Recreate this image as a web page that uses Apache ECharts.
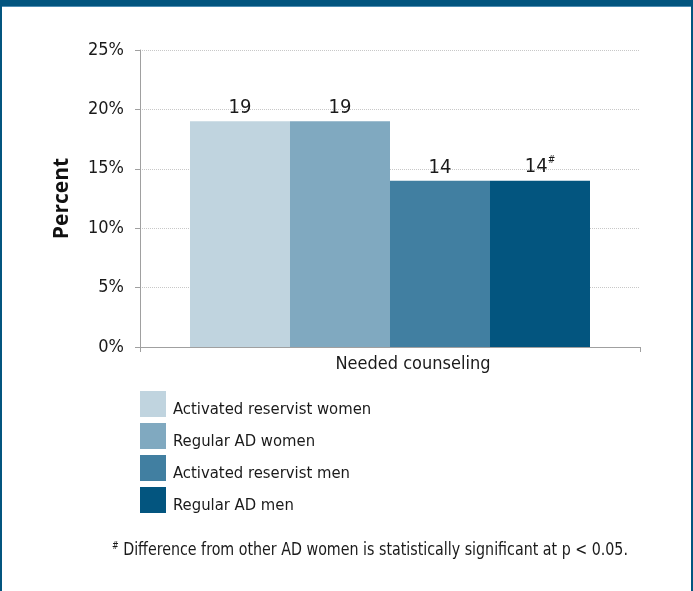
<!DOCTYPE html>
<html>
<head>
<meta charset="utf-8">
<script src="https://cdn.jsdelivr.net/npm/echarts@6/dist/echarts.min.js"></script>
<style>
  html, body { margin: 0; padding: 0; background: #ffffff; }
  #chart { width: 693px; height: 591px; }
</style>
</head>
<body>
<div id="chart"></div>
<script>
// Share of respondents who needed counseling, by group
const categories = ['Needed counseling'];
const seriesNames = [
  'Activated reservist women',
  'Regular AD women',
  'Activated reservist men',
  'Regular AD men'
];
const seriesValues = [[19], [19], [14], [14]];
const significant = [false, false, false, true];
const yTicks = [0, 5, 10, 15, 20, 25];
const colors = ['#c0d4df', '#80a9c0', '#417fa1', '#03557f'];

const FONT = '"DejaVu Sans Condensed", "Liberation Sans Narrow", "Open Sans", sans-serif';
const INK = '#1a1a1a';
const chart = echarts.init(document.getElementById('chart'), null, { renderer: 'canvas' });

const series = seriesNames.map((name, i) => ({
  name,
  type: 'bar',
  data: seriesValues[i],
  barGap: '0%',
  barCategoryGap: '20%',
  itemStyle: { color: colors[i] },
  label: {
    show: true,
    position: 'top',
    distance: 3,
    fontFamily: FONT,
    fontSize: 20,
    color: INK,
    formatter: p => significant[i] ? p.value + '{sup|#}' : String(p.value),
    rich: { sup: { fontSize: 10, verticalAlign: 'top', padding: [0, 0, 12, 0], fontFamily: FONT, color: INK } }
  }
}));

chart.setOption({
  animation: false,
  backgroundColor: '#ffffff',
  textStyle: { fontFamily: FONT },
  grid: { left: 140, right: 53, top: 50, bottom: 244, containLabel: false },
  xAxis: {
    type: 'category',
    data: categories,
    axisLine: { lineStyle: { color: '#a0a0a0', width: 1 } },
    axisTick: { show: true, length: 5, lineStyle: { color: '#a0a0a0' } },
    axisLabel: { fontFamily: FONT, fontSize: 18, color: INK, margin: 8, padding: [0, 0, 0, 46] }
  },
  yAxis: {
    type: 'value',
    min: yTicks[0],
    max: yTicks[yTicks.length - 1],
    interval: 5,
    name: 'Percent',
    nameLocation: 'middle',
    nameGap: 67,
    nameTextStyle: { fontFamily: '"Open Sans", sans-serif', fontWeight: 'bold', fontSize: 21, color: '#111111' },
    axisLine: { show: true, lineStyle: { color: '#a0a0a0', width: 1 } },
    axisTick: { show: true, length: 5, lineStyle: { color: '#a0a0a0' } },
    axisLabel: { fontFamily: FONT, fontSize: 18, color: INK, margin: 16, formatter: v => v + '%' },
    splitLine: { show: true, lineStyle: { color: '#c8c8c8', type: [1, 1], width: 1 } }
  },
  legend: {
    orient: 'vertical',
    left: 140,
    top: 391,
    padding: 0,
    itemWidth: 26,
    itemHeight: 26,
    itemGap: 4.5,
    icon: 'rect',
    data: seriesNames,
    formatter: '{t|{name}}',
    textStyle: {
      fontFamily: FONT, fontSize: 16.5, color: INK,
      rich: { t: { fontFamily: FONT, fontSize: 16.5, color: INK, padding: [12, 0, 0, 2] } }
    }
  },
  graphic: [
    { type: 'rect', shape: { x: 0, y: 0, width: 693, height: 6 }, style: { fill: '#03557f' }, silent: true },
    { type: 'rect', shape: { x: 0, y: 6, width: 693, height: 1 }, style: { fill: '#4f8db3' }, silent: true },
    { type: 'rect', shape: { x: 0, y: 0, width: 2, height: 591 }, style: { fill: '#03557f' }, silent: true },
    { type: 'rect', shape: { x: 691, y: 0, width: 2, height: 591 }, style: { fill: '#03557f' }, silent: true },
    {
      type: 'text', x: 112, y: 541, scaleX: 0.88,
      style: {
        text: '{sup|#} Difference from other AD women is statistically significant at p < 0.05.',
        fontFamily: FONT, fontSize: 18, fill: INK,
        rich: { sup: { fontSize: 10, verticalAlign: 'top', padding: [0, 0, 8, 0], fontFamily: FONT, fill: INK } }
      }
    }
  ],
  series
});
</script>
</body>
</html>
